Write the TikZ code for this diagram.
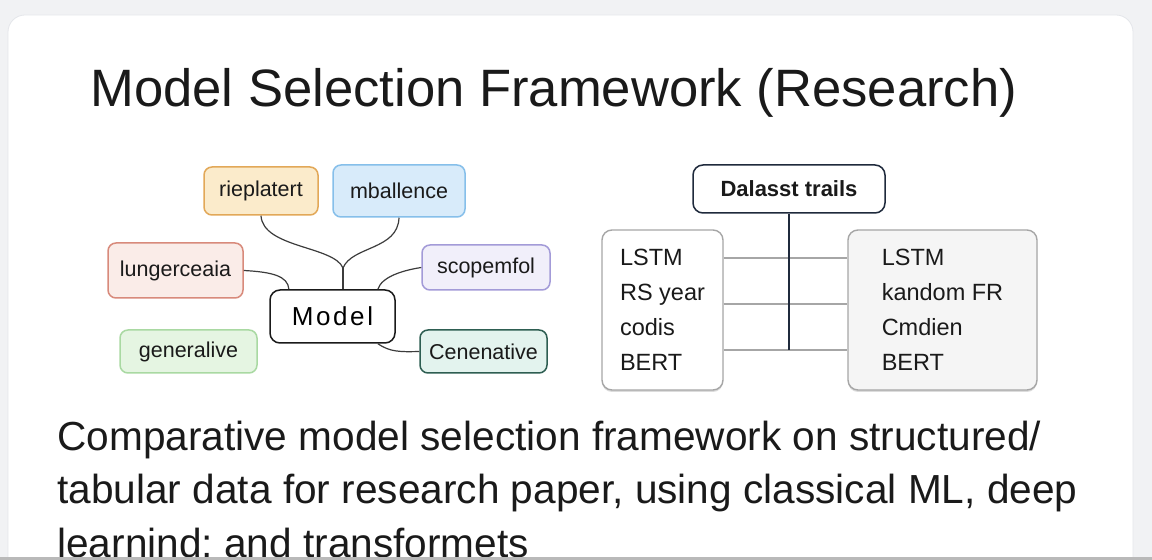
\documentclass[tikz,border=0pt]{standalone}
\usepackage{fontspec}
\setmainfont{Liberation Sans}
\usepackage{xcolor}
\usetikzlibrary{positioning,shadows}

\definecolor{pagebg}{HTML}{F1F2F4}
\definecolor{cardline}{HTML}{E4E6EA}
\definecolor{inkdark}{HTML}{1A1A1A}
\definecolor{navy}{HTML}{1F2A3C}
\definecolor{repfill}{HTML}{FBEBCB}
\definecolor{repdraw}{HTML}{E2A858}
\definecolor{mbafill}{HTML}{D8EBFA}
\definecolor{mbadraw}{HTML}{86BFEA}
\definecolor{lunfill}{HTML}{FAECE8}
\definecolor{lundraw}{HTML}{D88A7B}
\definecolor{scofill}{HTML}{F1EFFA}
\definecolor{scodraw}{HTML}{A39BD8}
\definecolor{genfill}{HTML}{E5F5E2}
\definecolor{gendraw}{HTML}{A9D9A2}
\definecolor{cenfill}{HTML}{E3F3EE}
\definecolor{cendraw}{HTML}{2E5E52}

\begin{document}
\begin{tikzpicture}[
    x=0.5pt, y=-0.5pt,
    tag/.style={rectangle, rounded corners=4pt, line width=0.75pt,
                text=inkdark, font=\fontsize{10.75}{12}\selectfont},
    hub/.style={rectangle, rounded corners=5pt, draw=inkdark, fill=white,
                line width=0.75pt, minimum width=62.5pt, minimum height=26.5pt,
                font=\fontsize{13}{15}\selectfont\addfontfeatures{LetterSpace=10}},
    listbox/.style={rectangle, rounded corners=5pt, draw=gray!70, line width=0.7pt,
                    align=left, minimum height=80pt, text=inkdark,
                    font=\fontsize{11.75}{17.5}\selectfont,
                    drop shadow={shadow xshift=0pt, shadow yshift=-1pt,
                                 opacity=0.3, fill=black!45}},
    link/.style={draw=inkdark!85, line width=0.6pt},
    rail/.style={draw=gray!70, line width=0.75pt}
]
\useasboundingbox (0,0) rectangle (1152,560);
\clip (0,0) rectangle (1152,560);
% page and card
\fill[pagebg] (0,0) rectangle (1152,560);
\filldraw[fill=white, draw=cardline, rounded corners=8.5pt] (8,15) rectangle (1133,640);

\node[anchor=base west, inner sep=0pt, text=inkdark,
      font=\fontsize{26.3}{30}\selectfont] (title) at (90,107)
      {Model Selection Framework (Research)};

% left cluster
\node[tag, draw=repdraw, fill=repfill, minimum width=57pt, minimum height=24pt] (rep) at (261,191) {rieplatert};
\node[tag, draw=mbadraw, fill=mbafill, minimum width=66pt, minimum height=26pt] (mbal) at (399,191) {mballence};
\node[tag, draw=lundraw, fill=lunfill, minimum width=67.5pt, minimum height=27.5pt] (lung) at (175.5,270.5) {lungerceaia};
\node[tag, draw=scodraw, fill=scofill, minimum width=64pt, minimum height=22.5pt] (scop) at (486,267.5) {scopemfol};
\node[hub] (model) at (332.5,316.5) {Model};
\node[tag, draw=gendraw, fill=genfill, minimum width=68.5pt, minimum height=21.5pt] (gen) at (188.5,351.5) {generalive};
\node[tag, draw=cendraw, fill=cenfill, minimum width=63.5pt, minimum height=21.5pt] (cene) at (483.5,351.5) {Cenenative};

\coordinate (J) at (343,268);
\draw[link] (rep.south) .. controls (263,248) and (334,246) .. (J);
\draw[link] (mbal.south) .. controls (398,250) and (352,246) .. (J);
\draw[link] (J) -- (J |- model.north);
\draw[link] (lung.east) .. controls (272,272) and (288,276) .. (model.148);
\draw[link] (scop.west) .. controls (405,270) and (382,276) .. (model.31);
\draw[link] (model.-31) .. controls (390,352) and (400,352) .. (cene.west);

% right table
\node[rectangle, rounded corners=5pt, draw=navy, fill=white, line width=0.75pt,
      minimum width=96pt, minimum height=24pt, text=inkdark,
      font=\fontsize{11}{13}\selectfont\bfseries] (data) at (789,189) {Dalasst trails};
\node[listbox, fill=white, minimum width=60.5pt] (lbox) at (662.5,310)
      {LSTM\\RS year\\codis\\BERT};
\node[listbox, fill=black!4, minimum width=94.5pt] (rbox) at (942.5,310)
      {LSTM\\kandom FR\\Cmdien\\BERT};

\coordinate (h1) at (0,258);
\coordinate (h2) at (0,304);
\coordinate (h3) at (0,350);
\draw[rail] (lbox.east |- h1) -- (rbox.west |- h1);
\draw[rail] (lbox.east |- h2) -- (rbox.west |- h2);
\draw[rail] (lbox.east |- h3) -- (rbox.west |- h3);
\draw[link, draw=navy] (data.south) -- (data.south |- h3);

% caption
\node[anchor=north west, inner sep=0pt, align=left, text=inkdark,
      font=\fontsize{20.3}{26.75}\selectfont] (caption) at (57,420.5)
      {Comparative model selection framework on structured/\\
       tabular data for research paper, using classical ML, deep\\
       learnind; and transformets};

\fill[gray!55] (0,557.5) rectangle (1152,560);
\end{tikzpicture}
\end{document}
